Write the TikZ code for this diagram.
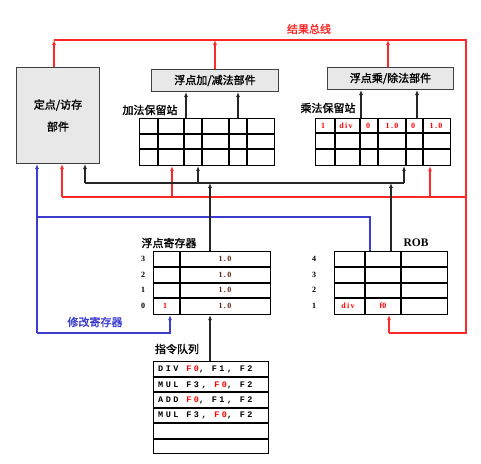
\documentclass[tikz,border=0pt]{standalone}
\usepackage{fontspec}
\setmainfont{Liberation Serif}
\newfontfamily\cjk{Noto Sans CJK SC}[FakeBold=1.6]
\newfontfamily\instr{Liberation Mono}[LetterSpace=30]
\usetikzlibrary{arrows.meta}
\definecolor{busred}{RGB}{255,40,40}
\definecolor{busblue}{RGB}{60,60,205}
\definecolor{valbrown}{RGB}{95,35,15}
\tikzset{%
	>={Latex[width=4pt,length=5pt]},
	% functional units
	base/.style = {rectangle, draw=black!75, line width=1pt, fill=gray!18,
		inner sep=0pt, font=\cjk\fontsize{11}{13}\selectfont},
	unit/.style = {base, minimum width=127pt, minimum height=22pt, anchor=north west},
	% tables (reservation stations, registers, ROB, queue)
	tablebox/.style = {rectangle, draw=black, line width=1.1pt, inner sep=0pt, anchor=north west},
	tline/.style = {black, line width=1.1pt},
	title/.style = {inner sep=0pt, font=\cjk\fontsize{11}{11}\selectfont},
	cell/.style = {inner sep=0pt, font=\bfseries\fontsize{8}{8}\selectfont},
	op/.style = {inner sep=0pt, anchor=west, font=\instr\bfseries\fontsize{8.5}{9}\selectfont},
	% connectors
	redbus/.style = {draw=busred, line width=1.1pt},
	bluebus/.style = {draw=busblue, line width=1.1pt},
	cdb/.style = {draw=black!85, line width=1.1pt},
}
\begin{document}
\begin{tikzpicture}[x=1pt, y=-1pt]
	\useasboundingbox (0,0) rectangle (481,463);
	% Units
	\node (lsu)     [base, anchor=north west, minimum width=83pt, minimum height=96pt,
		align=center, font=\cjk\fontsize{11}{22}\selectfont] at (16,67) {定点/访存\\部件};
	\node (addunit) [unit] at (151,69) {浮点加/减法部件};
	\node (mulunit) [unit, minimum width=126pt] at (327,67) {浮点乘/除法部件};
	% Tables
	\node (addrs) [tablebox, minimum width=135pt, minimum height=47pt] at (139,118) {};
	\node (mulrs) [tablebox, minimum width=135pt, minimum height=47pt] at (315,118) {};
	\node (fpr)   [tablebox, minimum width=117pt, minimum height=63pt] at (153,251) {};
	\node (rob)   [tablebox, minimum width=113pt, minimum height=63pt] at (334,251) {};
	\node (queue) [tablebox, minimum width=115pt, minimum height=92pt] at (153,361) {};
	\foreach \x in {158,184,202,229,247} \draw[tline] (\x,118) -- (\x,165);
	\foreach \y in {134,149} \draw[tline] (139,\y) -- (274,\y);
	\foreach \x in {335,360,378,406,423} \draw[tline] (\x,118) -- (\x,165);
	\foreach \y in {133,149} \draw[tline] (315,\y) -- (450,\y);
	\draw[tline] (180,251) -- (180,314);
	\foreach \y in {267,283,298} \draw[tline] (153,\y) -- (270,\y);
	\foreach \x in {365,401} \draw[tline] (\x,251) -- (\x,314);
	\foreach \y in {267,283,298} \draw[tline] (334,\y) -- (447,\y);
	\foreach \y in {377,392,408,423,439} \draw[tline] (153,\y) -- (268,\y);
	% Titles
	\node (bustitle)   [title, text=busred] at (309,29) {结果总线};
	\node (addrstitle) [title] at (150,110) {加法保留站};
	\node (mulrstitle) [title] at (328,108) {乘法保留站};
	\node (fprtitle)   [title] at (169,243) {浮点寄存器};
	\node (robtitle)   [inner sep=0pt, font=\bfseries\fontsize{11.5}{11}\selectfont] at (416,243) {ROB};
	\node (modtitle)   [title, text=busblue] at (95,322) {修改寄存器};
	\node (queuetitle) [title] at (177,349) {指令队列};
	% Cell contents
	\foreach \n/\y in {3/259,2/275,1/290,0/306} {
		\node (fpn\n) [cell] at (143,\y) {\n};
		\node (fpv\n) [cell, text=valbrown] at (225,\y) {1\,.\,0};
	}
	\node (fpq0) [cell, text=red] at (165,306) {1};
	\foreach \n/\y in {4/259,3/275,2/290,1/306} \node (robn\n) [cell] at (314,\y) {\n};
	\node (robop)  [cell, text=red] at (348,306) {d\,i\,v};
	\node (robdst) [cell, text=red] at (383,306) {f0};
	\foreach \t/\x [count=\i] in {1/323, d\,i\,v/346, 0/368, 1\,.\,0/392, 0/413, 1\,.\,0/436}
		\node (mulc\i) [cell, text=red] at (\x,126) {\t};
	\node (op1) [op] at (158,369) {DIV \textcolor{red}{F0}, F1, F2};
	\node (op2) [op] at (158,385) {MUL F3, \textcolor{red}{F0}, F2};
	\node (op3) [op] at (158,400) {ADD \textcolor{red}{F0}, F1, F2};
	\node (op4) [op] at (158,415) {MUL F3, \textcolor{red}{F0}, F2};
	% Bus levels and drop points
	\coordinate (tb) at (0,40);
	\coordinate (rb) at (0,197);
	\coordinate (cb) at (0,183);
	\coordinate (bb) at (0,217);
	\coordinate (lb) at (0,333);
	\coordinate (edge) at (466,0);
	\coordinate (pL1) at (37,0);
	\coordinate (pLo) at (54,0);
	\coordinate (pL2) at (62,0);
	\coordinate (pL3) at (85,0);
	\coordinate (pFb) at (170,0);
	\coordinate (pAr) at (172,0);
	\coordinate (pA1) at (186,0);
	\coordinate (pAc) at (198,0);
	\coordinate (pF) at (210,0);
	\coordinate (pAo) at (215,0);
	\coordinate (pA2) at (238,0);
	\coordinate (pM1) at (361,0);
	\coordinate (pRb) at (370,0);
	\coordinate (pMo) at (388,0);
	\coordinate (pRr) at (389,0);
	\coordinate (pR) at (391,0);
	\coordinate (pMc) at (404,0);
	\coordinate (pM2) at (417,0);
	\coordinate (pMr) at (430,0);
	% Result bus
	\draw[redbus] (pLo |- tb) -- (edge |- tb) -- (edge |- lb) -- (pRr |- lb);
	\draw[redbus,->] (pRr |- lb) -- (rob.south -| pRr);
	\draw[redbus,->] (lsu.north -| pLo) -- (pLo |- tb);
	\draw[redbus,->] (addunit.north -| pAo) -- (pAo |- tb);
	\draw[redbus,->] (mulunit.north -| pMo) -- (pMo |- tb);
	\draw[redbus] (pL2 |- rb) -- (edge |- rb);
	\draw[redbus,->] (pL2 |- rb) -- (lsu.south -| pL2);
	\draw[redbus,->] (pAr |- rb) -- (addrs.south -| pAr);
	\draw[redbus,->] (pMr |- rb) -- (mulrs.south -| pMr);
	% Register update (blue)
	\draw[bluebus] (rob.north -| pRb) -- (pRb |- bb) -- (pL1 |- bb);
	\draw[bluebus,->] (pL1 |- lb) -- (lsu.south -| pL1);
	\draw[bluebus,->] (pL1 |- lb) -- (pFb |- lb) -- (fpr.south -| pFb);
	% Operand bus (black)
	\draw[cdb] (pL3 |- cb) -- (pMc |- cb);
	\draw[cdb,->] (pL3 |- cb) -- (lsu.south -| pL3);
	\draw[cdb,->] (pAc |- cb) -- (addrs.south -| pAc);
	\draw[cdb,->] (pMc |- cb) -- (mulrs.south -| pMc);
	\draw[cdb,->] (fpr.north -| pF) -- (pF |- cb);
	\draw[cdb,->] (rob.north -| pR) -- (pR |- cb);
	\draw[cdb,->] (addrs.north -| pA1) -- (addunit.south -| pA1);
	\draw[cdb,->] (addrs.north -| pA2) -- (addunit.south -| pA2);
	\draw[cdb,->] (mulrs.north -| pM1) -- (mulunit.south -| pM1);
	\draw[cdb,->] (mulrs.north -| pM2) -- (mulunit.south -| pM2);
	\draw[cdb,->] (queue.north -| pF) -- (fpr.south -| pF);
\end{tikzpicture}
\end{document}
